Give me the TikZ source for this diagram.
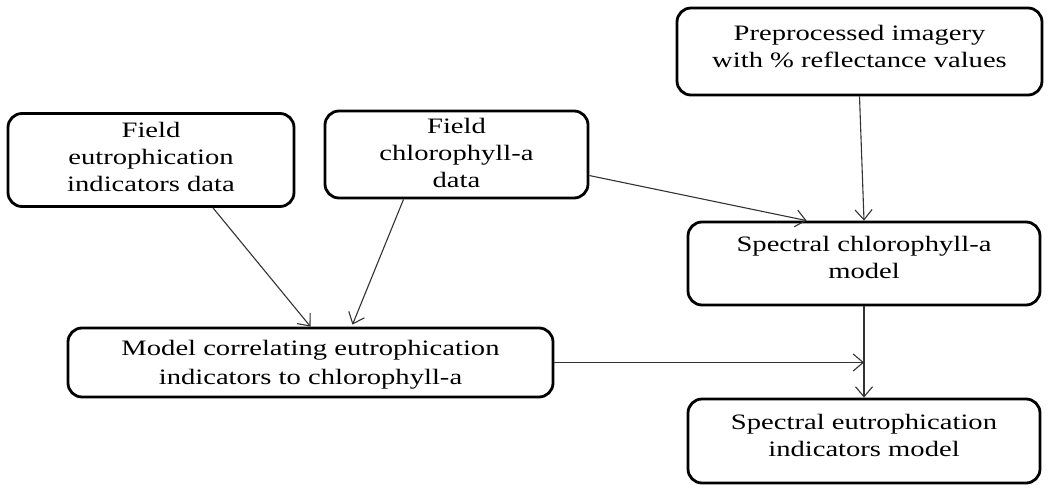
\documentclass[tikz,border=0pt]{standalone}
\usepackage{fontspec}
\setmainfont{Liberation Serif}[FakeStretch=1.3]
\usetikzlibrary{arrows.meta}

\tikzset{
  stagebox/.style={draw=black, line width=2.8pt, rounded corners=14pt, inner sep=0pt},
  stagetext/.style={align=center, anchor=north, inner sep=0pt,
    font=\fontsize{22}{27}\selectfont, text=black},
  flow/.style={draw=black!80, line width=1.1pt,
    -{Straight Barb[length=10pt,width=17pt,line width=1.1pt]}},
}

\begin{document}
\begin{tikzpicture}[x=1pt, y=-1pt]
  \useasboundingbox[fill=white] (0,0) rectangle (1048,495);

  % boxes of the processing chain
  \node[stagebox, minimum width=365pt, minimum height=87pt] (pre)      at (859.5,51.5) {};
  \node[stagebox, minimum width=286pt, minimum height=93pt] (fieldeut) at (151,160)    {};
  \node[stagebox, minimum width=263pt, minimum height=87pt] (fieldchl) at (456.5,154.5) {};
  \node[stagebox, minimum width=352pt, minimum height=83pt] (spchl)    at (864,263.5)  {};
  \node[stagebox, minimum width=485pt, minimum height=69pt] (model)    at (310.5,362.5) {};
  \node[stagebox, minimum width=352pt, minimum height=84pt] (speut)    at (864,441)    {};

  % box captions
  \node[stagetext] (preT)      at (859.5,25) {Preprocessed imagery\\with \% reflectance values};
  \node[stagetext] (fieldeutT) at (151,122)  {Field\\eutrophication\\indicators data};
  \node[stagetext] (fieldchlT) at (456.5,118) {Field\\chlorophyll-a\\data};
  \node[stagetext] (spchlT)    at (864,236)  {Spectral chlorophyll-a\\model};
  \node[stagetext] (modelT)    at (310.5,340) {Model correlating eutrophication\\[2pt]indicators to chlorophyll-a};
  \node[stagetext] (speutT)    at (864,414)  {Spectral eutrophication\\indicators model};

  % connectors
  \draw[flow] (pre.south) -- (spchl.north);
  \draw[flow] (fieldchl.-9) -- ([xshift=120pt]spchl.north west);
  \draw[flow] ([xshift=62pt]fieldeut.south) -- (model.north);
  \draw[flow] ([xshift=-53pt]fieldchl.south) -- ([xshift=42pt,yshift=2pt]model.north);
  \draw[flow] (spchl.south) -- (speut.north);
  \draw[flow] (model.east) -- (model.east -| speut.north);
\end{tikzpicture}
\end{document}
